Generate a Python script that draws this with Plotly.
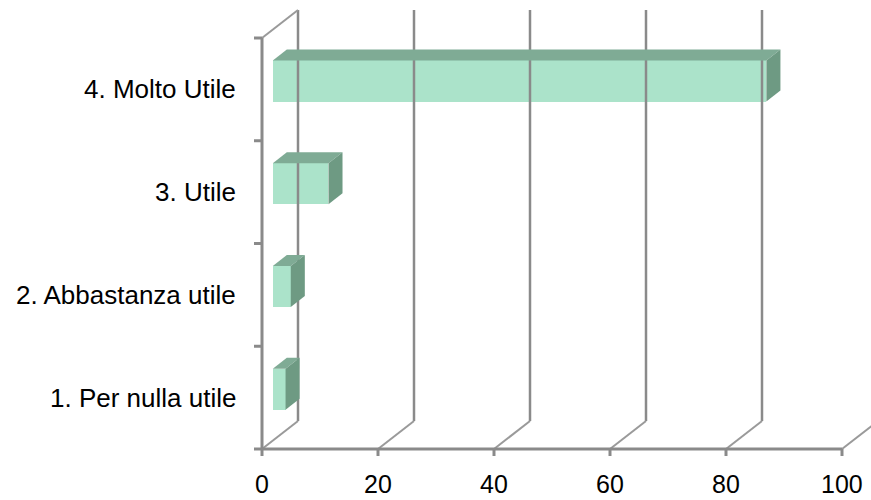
import plotly.graph_objects as go

# ---- data -------------------------------------------------------------
categories = ["1. Per nulla utile", "2. Abbastanza utile", "3. Utile", "4. Molto Utile"]
values = [2.2, 3.1, 9.6, 85.1]
x_ticks = [0, 20, 40, 60, 80, 100]
x_tick_labels = ["0", "20", "40", "60", "80", "100"]

# ---- page / projection geometry --------------------------------------
W, H = 871, 500
X0_PX, Y0_PX = 262, 449          # pixel position of the front-plane origin
PX_PER_X = 5.8                   # pixels per value unit
PX_PER_CAT = 102.75              # pixels per category slot
DEPTH_PX = (36, 28)              # oblique offset of the back wall, in pixels

x_range = [-X0_PX / PX_PER_X, (W - X0_PX) / PX_PER_X]
y_range = [-(H - Y0_PX) / PX_PER_CAT, Y0_PX / PX_PER_CAT]
DX = DEPTH_PX[0] / PX_PER_X
DY = DEPTH_PX[1] / PX_PER_CAT

n_cat = len(categories)
x_max = x_ticks[-1]

GRID = "#8a8a8a"
DIAG = "#9a9a9a"
FRONT = "#abe3ca"
TOP = "#7fab95"
SIDE = "#6e9a83"
FONT = "Liberation Sans, Arial, sans-serif"

fig = go.Figure()


def add_lines(segments, color, width):
    xs, ys = [], []
    for (x1, y1), (x2, y2) in segments:
        xs += [x1, x2, None]
        ys += [y1, y2, None]
    fig.add_trace(go.Scatter(x=xs, y=ys, mode="lines", hoverinfo="skip",
                             line=dict(color=color, width=width), showlegend=False))


# back wall gridlines
add_lines([((t + DX, DY), (t + DX, n_cat + DY)) for t in x_ticks], GRID, 2.5)
# floor diagonals and the top edge of the side wall
add_lines([((t, 0), (t + DX, DY)) for t in x_ticks] + [((0, n_cat), (DX, n_cat + DY))], DIAG, 2)
# front axes with tick marks
tick_x = 8 / PX_PER_X
tick_y = 7 / PX_PER_CAT
front = [((0, 0), (x_max, 0)), ((0, 0), (0, n_cat))]
front += [((t, 0), (t, -tick_y)) for t in x_ticks]
front += [((0, k), (-tick_x, k)) for k in range(n_cat + 1)]
add_lines(front, GRID, 3)

# 3D bars: front faces as a bar trace, top and side faces as filled polygons
d0, d1 = 0.30, 0.69
half = 0.2
ddx, ddy = (d1 - d0) * DX, (d1 - d0) * DY
x_base = d0 * DX
centers = [i + 0.5 + d0 * DY for i in range(n_cat)]

for yc, v in zip(centers, values):
    yt, yb = yc + half, yc - half
    xe = x_base + v
    fig.add_trace(go.Scatter(
        x=[x_base, xe, xe + ddx, x_base + ddx, x_base],
        y=[yt, yt, yt + ddy, yt + ddy, yt],
        fill="toself", fillcolor=TOP, mode="lines", line=dict(width=0, color=TOP),
        hoverinfo="skip", showlegend=False))
    fig.add_trace(go.Scatter(
        x=[xe, xe, xe + ddx, xe + ddx, xe],
        y=[yb, yt, yt + ddy, yb + ddy, yb],
        fill="toself", fillcolor=SIDE, mode="lines", line=dict(width=0, color=SIDE),
        hoverinfo="skip", showlegend=False))

fig.add_trace(go.Bar(
    y=centers, x=values, base=x_base, width=2 * half, orientation="h",
    marker=dict(color=FRONT, line=dict(width=0)), showlegend=False, hoverinfo="skip"))

# category labels
for i, name in enumerate(categories):
    fig.add_annotation(x=-24 / PX_PER_X, y=i + 0.5, text=name, showarrow=False,
                       xanchor="right", yanchor="middle",
                       font=dict(family=FONT, size=26, color="#000000"))
# value axis labels
for t, lab in zip(x_ticks, x_tick_labels):
    fig.add_annotation(x=t, y=-35 / PX_PER_CAT, text=lab, showarrow=False,
                       xanchor="center", yanchor="middle",
                       font=dict(family=FONT, size=25, color="#000000"))

fig.update_layout(
    width=W, height=H,
    margin=dict(l=0, r=0, t=0, b=0),
    paper_bgcolor="white", plot_bgcolor="white",
    xaxis=dict(range=x_range, visible=False, fixedrange=True),
    yaxis=dict(range=y_range, visible=False, fixedrange=True),
    bargap=0,
)

fig.write_html("out.html")
